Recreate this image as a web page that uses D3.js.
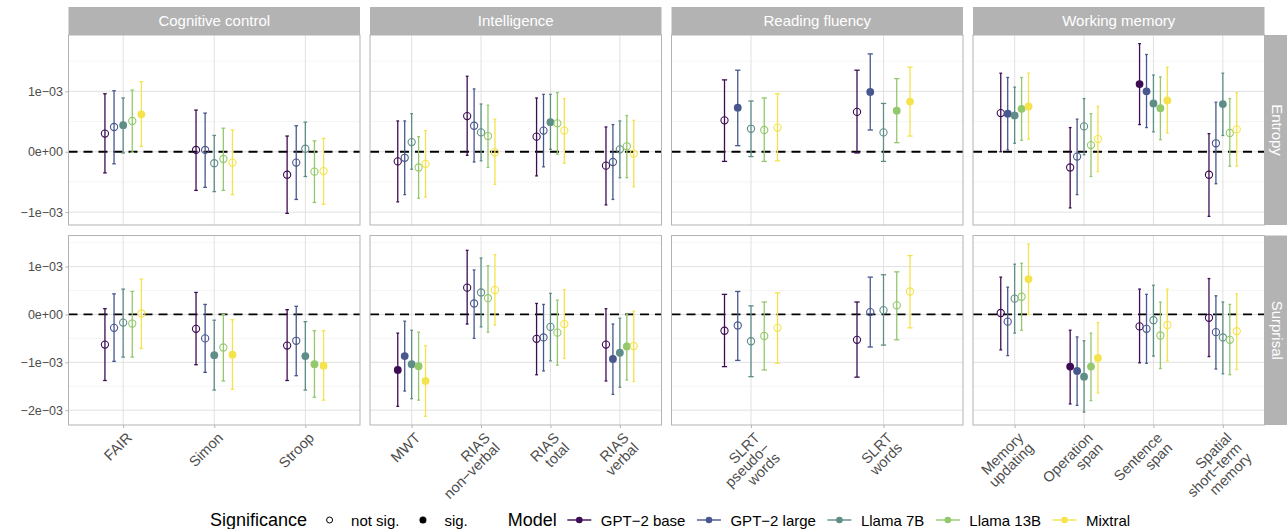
<!DOCTYPE html>
<html lang="en">
<head>
<meta charset="UTF-8">
<title>Entropy and surprisal effects by task and model</title>
<script src="https://d3js.org/d3.v7.min.js"></script>
<style>
  body { margin: 0; background: #fff; }
  svg { display: block; font-family: "Liberation Sans", Arial, Helvetica, sans-serif; }
  .grid-major { stroke: #dedede; stroke-width: 0.9px; }
  .grid-minor { stroke: #efefef; stroke-width: 0.6px; }
  .panel-border { fill: none; stroke: #b3b3b3; stroke-width: 1px; }
  .strip rect { fill: #b3b3b3; }
  .strip text { fill: #fff; font-size: 15px; }
  .axis text { fill: #4d4d4d; font-size: 12.5px; font-family: "Liberation Sans", Arial, Helvetica, sans-serif; }
  .axis.x-axis text { font-size: 14.5px; }
  .axis line { stroke: #b3b3b3; }
  .zero-line { stroke: #000; stroke-width: 1.8px; stroke-dasharray: 9 6; }
  .legend-title { font-size: 18px; fill: #000; }
  .legend-label { font-size: 15px; fill: #000; }
</style>
</head>
<body>
<div id="chart"></div>
<script>
// --- Data (estimates and intervals in units of 1e-03) ---
const groups = ["Cognitive control", "Intelligence", "Reading fluency", "Working memory"];
const tasks = ["FAIR", "Simon", "Stroop",
               "MWT", "RIAS\nnon\u2212verbal", "RIAS\ntotal", "RIAS\nverbal",
               "SLRT\npseudo\u2212\nwords", "SLRT\nwords",
               "Memory\nupdating", "Operation\nspan", "Sentence\nspan", "Spatial\nshort\u2212term\nmemory"];
const taskGroup = ["Cognitive control", "Cognitive control", "Cognitive control",
                   "Intelligence", "Intelligence", "Intelligence", "Intelligence",
                   "Reading fluency", "Reading fluency",
                   "Working memory", "Working memory", "Working memory", "Working memory"];
const models = ["GPT\u22122 base", "GPT\u22122 large", "Llama 7B", "Llama 13B", "Mixtral"];
const modelColors = ["#3d0c52", "#48578d", "#5f8d88", "#93c86c", "#f4e34c"];
const measures = ["Entropy", "Surprisal"];
const sigLabels = ["not sig.", "sig."];

const yTickValues = [-2, -1, 0, 1];
const yTickLabels = ["\u22122e\u221203", "\u22121e\u221203", "0e+00", "1e\u221203"];

// rows = tasks, columns = models
const entropyEst = [
  [0.30, 0.41, 0.44, 0.51, 0.62], [0.03, 0.03, -0.19, -0.12, -0.18], [-0.38, -0.18, 0.05, -0.33, -0.32],
  [-0.16, -0.10, 0.16, -0.26, -0.20], [0.59, 0.43, 0.32, 0.26, -0.01], [0.25, 0.35, 0.49, 0.47, 0.35], [-0.23, -0.17, 0.04, 0.09, -0.03],
  [0.52, 0.73, 0.38, 0.36, 0.40], [0.66, 0.99, 0.32, 0.68, 0.83],
  [0.64, 0.63, 0.60, 0.71, 0.75], [-0.26, -0.08, 0.42, 0.11, 0.21], [1.12, 1.00, 0.80, 0.72, 0.85], [-0.38, 0.14, 0.79, 0.31, 0.37]
];
const entropyLo = [
  [-0.35, -0.20, -0.02, -0.01, 0.09], [-0.64, -0.59, -0.66, -0.64, -0.71], [-1.02, -0.79, -0.41, -0.84, -0.87],
  [-0.83, -0.71, -0.29, -0.77, -0.75], [-0.06, -0.17, -0.15, -0.26, -0.54], [-0.40, -0.25, 0.04, -0.04, -0.19], [-0.88, -0.79, -0.43, -0.43, -0.58],
  [-0.16, 0.10, -0.08, -0.16, -0.15], [-0.02, 0.36, -0.16, 0.15, 0.26],
  [0.00, 0.03, 0.14, 0.19, 0.21], [-0.93, -0.71, -0.05, -0.41, -0.33], [0.45, 0.40, 0.33, 0.20, 0.31], [-1.07, -0.53, 0.27, -0.24, -0.24]
];
const entropyHi = [
  [0.96, 1.01, 0.89, 1.02, 1.16], [0.69, 0.64, 0.27, 0.39, 0.36], [0.26, 0.43, 0.49, 0.18, 0.22],
  [0.51, 0.51, 0.63, 0.25, 0.35], [1.25, 1.04, 0.79, 0.77, 0.54], [0.89, 0.95, 0.95, 0.98, 0.88], [0.41, 0.45, 0.51, 0.60, 0.52],
  [1.19, 1.35, 0.84, 0.89, 0.96], [1.35, 1.62, 0.80, 1.21, 1.40],
  [1.30, 1.23, 1.07, 1.23, 1.30], [0.40, 0.54, 0.88, 0.63, 0.75], [1.79, 1.61, 1.27, 1.24, 1.40], [0.30, 0.82, 1.30, 0.88, 0.98]
];
const entropySig = [
  [0, 0, 1, 0, 1], [0, 0, 0, 0, 0], [0, 0, 0, 0, 0],
  [0, 0, 0, 0, 0], [0, 0, 0, 0, 0], [0, 0, 1, 0, 0], [0, 0, 0, 0, 0],
  [0, 1, 0, 0, 0], [0, 1, 0, 1, 1],
  [0, 1, 1, 1, 1], [0, 0, 0, 0, 0], [1, 1, 1, 1, 1], [0, 0, 1, 0, 0]
];

const surprisalEst = [
  [-0.63, -0.28, -0.17, -0.19, 0.02], [-0.30, -0.50, -0.85, -0.69, -0.84], [-0.65, -0.55, -0.87, -1.04, -1.07],
  [-1.16, -0.87, -1.04, -1.08, -1.39], [0.56, 0.23, 0.46, 0.34, 0.51], [-0.51, -0.48, -0.26, -0.38, -0.20], [-0.63, -0.93, -0.80, -0.67, -0.66],
  [-0.34, -0.23, -0.56, -0.45, -0.28], [-0.53, 0.05, 0.09, 0.19, 0.48],
  [0.03, -0.15, 0.33, 0.37, 0.74], [-1.09, -1.18, -1.30, -1.09, -0.91], [-0.25, -0.30, -0.12, -0.44, -0.22], [-0.07, -0.37, -0.48, -0.53, -0.35]
];
const surprisalLo = [
  [-1.38, -0.98, -0.89, -0.89, -0.71], [-1.05, -1.21, -1.58, -1.39, -1.56], [-1.38, -1.28, -1.58, -1.73, -1.79],
  [-1.92, -1.60, -1.76, -1.79, -2.13], [-0.20, -0.50, -0.26, -0.37, -0.22], [-1.26, -1.18, -0.97, -1.06, -0.92], [-1.39, -1.67, -1.52, -1.37, -1.40],
  [-1.09, -0.96, -1.30, -1.16, -1.02], [-1.31, -0.68, -0.64, -0.53, -0.28],
  [-0.74, -0.86, -0.39, -0.33, 0.00], [-1.87, -1.90, -2.04, -1.80, -1.64], [-1.01, -1.02, -0.87, -1.13, -0.97], [-0.88, -1.14, -1.24, -1.26, -1.15]
];
const surprisalHi = [
  [0.12, 0.43, 0.53, 0.48, 0.74], [0.46, 0.21, -0.12, 0.00, -0.11], [0.10, 0.17, -0.15, -0.34, -0.34],
  [-0.39, -0.14, -0.33, -0.37, -0.65], [1.34, 0.93, 1.18, 1.02, 1.25], [0.23, 0.21, 0.44, 0.30, 0.52], [0.12, -0.20, -0.08, 0.00, 0.07],
  [0.42, 0.48, 0.18, 0.26, 0.45], [0.26, 0.78, 0.83, 0.89, 1.23],
  [0.78, 0.57, 1.05, 1.07, 1.47], [-0.33, -0.47, -0.55, -0.39, -0.17], [0.53, 0.42, 0.61, 0.26, 0.53], [0.75, 0.39, 0.26, 0.21, 0.43]
];
const surprisalSig = [
  [0, 0, 0, 0, 0], [0, 0, 1, 0, 1], [0, 0, 1, 1, 1],
  [1, 1, 1, 1, 1], [0, 0, 0, 0, 0], [0, 0, 0, 0, 0], [0, 1, 1, 1, 0],
  [0, 0, 0, 0, 0], [0, 0, 0, 0, 0],
  [0, 0, 0, 0, 1], [1, 1, 1, 1, 1], [0, 0, 0, 0, 0], [0, 0, 0, 0, 0]
];

// --- Layout ---
const width = 1287, height = 529;
const panelLeft = [68.5, 370, 671.5, 973], panelW = 291.5;
const rowTop = [35, 235.5], rowBottom = [225, 425];
const stripTop = 7, stripH = 28;
const dodgeStep = 0.1, capHalf = 0.02;

const rows = [
  { est: entropyEst, lo: entropyLo, hi: entropyHi, sig: entropySig },
  { est: surprisalEst, lo: surprisalLo, hi: surprisalHi, sig: surprisalSig }
];

const svg = d3.select("#chart").append("svg").attr("width", width).attr("height", height);

// x scale per group, ggplot-like 0.6 outer padding
const xScales = groups.map((g, gi) => d3.scalePoint()
  .domain(tasks.filter((t, i) => taskGroup[i] === g))
  .range([panelLeft[gi], panelLeft[gi] + panelW])
  .padding(0.6));

// y scale per row (free y, 5% expansion)
const yScales = rows.map((r, ri) => {
  const lo = d3.min(r.lo.flat()), hi = d3.max(r.hi.flat());
  const pad = (hi - lo) * 0.05;
  return d3.scaleLinear().domain([lo - pad, hi + pad]).range([rowBottom[ri], rowTop[ri]]);
});

rows.forEach((r, ri) => {
  const y = yScales[ri];
  const [d0, d1] = y.domain();
  const majors = yTickValues.filter(v => v >= d0 && v <= d1);
  const minors = d3.range(-2.5, 2.5, 1).filter(v => v >= d0 && v <= d1);

  groups.forEach((g, gi) => {
    const x = xScales[gi];
    const step = x.step();
    const x0 = panelLeft[gi], x1 = x0 + panelW;
    const p = svg.append("g");

    p.append("rect").attr("x", x0).attr("y", rowTop[ri]).attr("width", panelW)
      .attr("height", rowBottom[ri] - rowTop[ri]).attr("fill", "#fff");
    p.selectAll(".grid-minor").data(minors).join("line").attr("class", "grid-minor")
      .attr("x1", x0).attr("x2", x1).attr("y1", d => y(d)).attr("y2", d => y(d));
    p.selectAll(".grid-major").data(majors).join("line").attr("class", "grid-major")
      .attr("x1", x0).attr("x2", x1).attr("y1", d => y(d)).attr("y2", d => y(d));
    p.selectAll(".grid-x").data(x.domain()).join("line").attr("class", "grid-major grid-x")
      .attr("x1", d => x(d)).attr("x2", d => x(d)).attr("y1", rowTop[ri]).attr("y2", rowBottom[ri]);

    p.append("line").attr("class", "zero-line")
      .attr("x1", x0).attr("x2", x1).attr("y1", y(0)).attr("y2", y(0));

    // points for this panel
    const pts = [];
    tasks.forEach((t, ti) => {
      if (taskGroup[ti] !== g) return;
      models.forEach((m, mi) => {
        pts.push({ cx: x(t) + (mi - 2) * dodgeStep * step, est: r.est[ti][mi], lo: r.lo[ti][mi],
                   hi: r.hi[ti][mi], sig: r.sig[ti][mi], color: modelColors[mi] });
      });
    });

    const bars = p.selectAll(".bar").data(pts).join("g").attr("class", "bar")
      .attr("stroke", d => d.color).attr("stroke-width", 1.3).attr("fill", "none");
    bars.append("line").attr("x1", d => d.cx).attr("x2", d => d.cx)
      .attr("y1", d => y(d.lo)).attr("y2", d => y(d.hi));
    bars.append("line").attr("x1", d => d.cx - capHalf * step).attr("x2", d => d.cx + capHalf * step)
      .attr("y1", d => y(d.lo)).attr("y2", d => y(d.lo));
    bars.append("line").attr("x1", d => d.cx - capHalf * step).attr("x2", d => d.cx + capHalf * step)
      .attr("y1", d => y(d.hi)).attr("y2", d => y(d.hi));

    p.selectAll(".pt").data(pts).join("circle").attr("class", "pt")
      .attr("cx", d => d.cx).attr("cy", d => y(d.est))
      .attr("r", d => d.sig ? 3.9 : 3.6)
      .attr("fill", d => d.sig ? d.color : "none")
      .attr("stroke", d => d.color).attr("stroke-width", d => d.sig ? 0 : 1.1);

    p.append("rect").attr("class", "panel-border").attr("x", x0).attr("y", rowTop[ri])
      .attr("width", panelW).attr("height", rowBottom[ri] - rowTop[ri]);

    // y axis on left column
    if (gi === 0) {
      svg.append("g").attr("class", "axis").attr("transform", `translate(${x0},0)`)
        .call(d3.axisLeft(y).tickValues(majors).tickSize(3).tickPadding(2.5)
          .tickFormat(v => yTickLabels[yTickValues.indexOf(v)]))
        .call(a => a.select(".domain").remove());
    }

    // x axis on bottom row
    if (ri === rows.length - 1) {
      const ax = svg.append("g").attr("class", "axis x-axis").attr("transform", `translate(0,${rowBottom[ri]})`)
        .call(d3.axisBottom(x).tickSize(3).tickFormat(""))
        .call(a => a.select(".domain").remove());
      ax.selectAll(".tick").append("text")
        .attr("transform", "translate(1,5.5) rotate(-45)")
        .attr("text-anchor", "end")
        .each(function(d) {
          const lines = d.split("\n");
          lines.forEach((ln, li) => {
            d3.select(this).append("tspan").attr("x", 0)
              .attr("dy", li === 0 ? "0.8em" : "0.98em").text(ln);
          });
        });
    }
  });

  // right strip
  const sg = svg.append("g").attr("class", "strip");
  sg.append("rect").attr("x", 1265).attr("y", rowTop[ri]).attr("width", 28)
    .attr("height", rowBottom[ri] - rowTop[ri]);
  sg.append("text").attr("text-anchor", "middle").attr("dy", "0.35em")
    .attr("transform", `translate(1277.5,${(rowTop[ri] + rowBottom[ri]) / 2}) rotate(90)`)
    .text(measures[ri]);
});

// top strips
groups.forEach((g, gi) => {
  const sg = svg.append("g").attr("class", "strip");
  sg.append("rect").attr("x", panelLeft[gi]).attr("y", stripTop).attr("width", panelW).attr("height", stripH);
  sg.append("text").attr("x", panelLeft[gi] + panelW / 2).attr("y", stripTop + stripH / 2)
    .attr("dy", "0.35em").attr("text-anchor", "middle").text(g);
});

// --- Legend ---
const legY = 520;
let lx = 210;
const leg = svg.append("g");
function addTitle(t) {
  const el = leg.append("text").attr("class", "legend-title").attr("x", lx).attr("y", legY + 6).text(t);
  lx += el.node().getComputedTextLength() + 11;
}
function addItem(label, drawKey) {
  drawKey(lx + 11.5);
  lx += 23 + 10;
  const el = leg.append("text").attr("class", "legend-label").attr("x", lx).attr("y", legY + 5.5).text(label);
  lx += el.node().getComputedTextLength() + 12;
}
addTitle("Significance");
addItem(sigLabels[0], cx => leg.append("circle").attr("cx", cx).attr("cy", legY).attr("r", 3)
  .attr("fill", "none").attr("stroke", "#000").attr("stroke-width", 1));
addItem(sigLabels[1], cx => leg.append("circle").attr("cx", cx).attr("cy", legY).attr("r", 3.5).attr("fill", "#000"));
lx += 28;
addTitle("Model");
models.forEach((m, mi) => addItem(m, cx => {
  leg.append("line").attr("x1", cx - 12).attr("x2", cx + 12).attr("y1", legY).attr("y2", legY)
    .attr("stroke", modelColors[mi]).attr("stroke-width", 1.4);
  leg.append("circle").attr("cx", cx).attr("cy", legY).attr("r", 3.3).attr("fill", modelColors[mi]);
}));
</script>
</body>
</html>
